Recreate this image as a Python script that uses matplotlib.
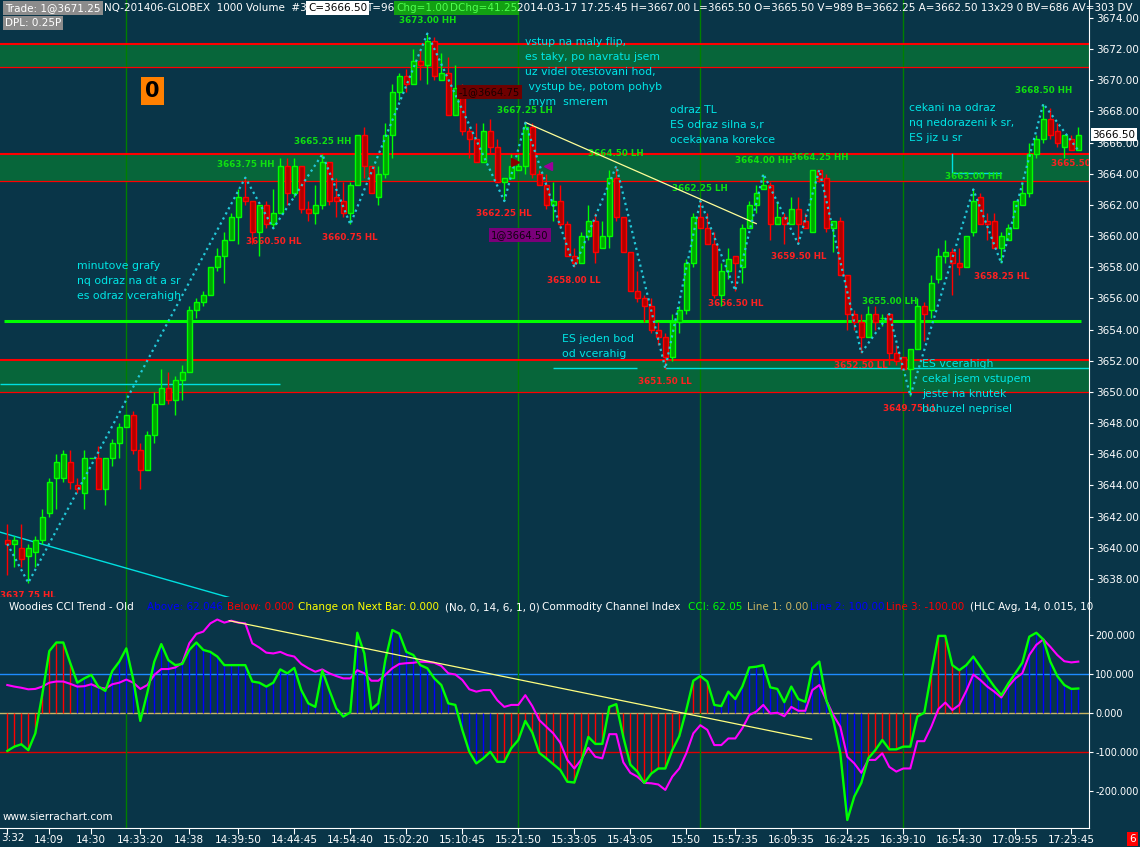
import matplotlib
matplotlib.use('Agg')
import matplotlib.pyplot as plt
import matplotlib.transforms as mtransforms
import numpy as np

plt.rcParams['font.family'] = ['DejaVu Sans']

# 1000 volume bars, NQ-201406
opens = [3640.50, 3640.25, 3640.00, 3639.50, 3639.75, 3640.50, 3642.25, 3644.50, 3644.50, 3645.50,
         3644.00, 3643.50, 3645.75, 3645.75, 3643.75, 3645.75, 3646.75, 3647.75, 3648.50, 3646.25,
         3645.00, 3647.25, 3649.25, 3650.25, 3649.50, 3650.75, 3651.25, 3655.25, 3655.75, 3656.25,
         3658.00, 3658.75, 3659.75, 3661.25, 3662.50, 3662.25, 3660.25, 3662.00, 3660.75, 3661.50,
         3664.50, 3662.75, 3664.50, 3661.75, 3661.50, 3662.00, 3664.75, 3662.50, 3662.25, 3661.50,
         3663.25, 3666.50, 3664.50, 3662.50, 3664.00, 3666.50, 3669.25, 3670.25, 3669.75, 3671.25,
         3671.00, 3672.50, 3670.00, 3670.50, 3667.75, 3669.50, 3666.75, 3666.25, 3664.75, 3666.75,
         3665.75, 3663.50, 3663.75, 3664.25, 3664.50, 3667.00, 3664.00, 3663.25, 3662.00, 3662.25,
         3660.75, 3658.75, 3658.25, 3660.00, 3661.00, 3659.25, 3660.00, 3663.75, 3661.25, 3659.00,
         3656.50, 3656.00, 3655.50, 3654.00, 3653.50, 3652.25, 3654.50, 3655.25, 3658.25, 3661.25,
         3660.50, 3659.50, 3656.25, 3657.75, 3658.75, 3658.00, 3660.50, 3662.00, 3663.00, 3663.25,
         3660.75, 3661.25, 3660.75, 3661.75, 3661.00, 3660.25, 3664.25, 3663.75, 3660.50, 3661.00,
         3657.50, 3655.00, 3654.50, 3653.50, 3655.00, 3654.75, 3655.00, 3652.50, 3652.25, 3651.50,
         3652.75, 3655.50, 3655.25, 3657.25, 3658.75, 3659.00, 3658.25, 3658.00, 3660.25, 3662.50,
         3661.00, 3661.00, 3659.25, 3659.75, 3660.50, 3662.00, 3662.75, 3665.25, 3666.25, 3667.50,
         3666.75, 3665.75, 3666.25, 3665.50]
highs = [3641.50, 3640.75, 3641.50, 3640.25, 3640.75, 3642.50, 3644.50, 3646.00, 3646.25, 3646.25,
         3644.50, 3646.25, 3645.75, 3646.50, 3645.75, 3647.00, 3648.00, 3648.50, 3648.75, 3646.75,
         3647.50, 3650.00, 3651.50, 3651.25, 3651.00, 3651.75, 3655.50, 3656.00, 3656.50, 3658.00,
         3659.25, 3660.25, 3661.50, 3663.00, 3663.75, 3662.25, 3662.00, 3662.25, 3663.00, 3665.00,
         3665.00, 3665.00, 3664.50, 3662.25, 3663.25, 3665.25, 3664.75, 3663.75, 3663.50, 3663.50,
         3666.50, 3667.00, 3664.50, 3664.50, 3667.25, 3669.75, 3670.50, 3670.75, 3672.00, 3672.00,
         3673.00, 3672.75, 3671.75, 3671.50, 3671.00, 3669.75, 3667.00, 3667.25, 3667.25, 3667.50,
         3666.25, 3663.75, 3665.25, 3665.25, 3667.25, 3667.25, 3664.25, 3664.00, 3663.50, 3663.25,
         3661.00, 3659.25, 3660.25, 3662.00, 3661.50, 3661.00, 3664.25, 3664.50, 3661.25, 3659.00,
         3657.75, 3656.25, 3656.00, 3654.50, 3653.75, 3655.00, 3655.50, 3658.50, 3661.50, 3662.25,
         3661.50, 3660.25, 3658.25, 3659.25, 3658.75, 3660.75, 3662.25, 3663.25, 3664.00, 3663.50,
         3662.25, 3661.50, 3662.50, 3662.50, 3661.50, 3664.25, 3664.25, 3664.00, 3661.00, 3661.25,
         3657.50, 3655.25, 3655.00, 3655.50, 3655.50, 3655.00, 3655.00, 3653.00, 3652.25, 3652.75,
         3656.00, 3655.75, 3657.50, 3659.25, 3659.75, 3659.25, 3659.25, 3660.00, 3663.00, 3662.75,
         3661.50, 3661.50, 3660.25, 3660.75, 3662.25, 3663.50, 3666.00, 3666.50, 3668.50, 3668.25,
         3667.25, 3666.50, 3666.50, 3667.00]
lows = [3638.25, 3638.75, 3638.75, 3637.75, 3638.75, 3640.25, 3642.00, 3642.50, 3644.25, 3643.75,
        3643.50, 3642.50, 3645.75, 3643.75, 3642.75, 3645.25, 3645.75, 3647.75, 3646.00, 3643.75,
        3645.00, 3646.75, 3649.25, 3649.25, 3648.50, 3649.50, 3651.25, 3654.75, 3655.50, 3656.25,
        3657.75, 3657.00, 3659.75, 3659.50, 3662.00, 3659.50, 3658.75, 3660.50, 3660.50, 3661.50,
        3662.00, 3662.50, 3661.50, 3661.00, 3660.75, 3661.75, 3662.00, 3661.25, 3661.25, 3660.75,
        3663.25, 3663.75, 3662.75, 3662.00, 3663.75, 3665.00, 3668.75, 3669.25, 3669.75, 3670.00,
        3669.75, 3670.00, 3670.00, 3667.75, 3667.75, 3666.50, 3665.00, 3664.75, 3664.75, 3665.25,
        3663.50, 3662.25, 3663.75, 3664.25, 3664.00, 3663.75, 3663.25, 3661.75, 3661.00, 3660.50,
        3658.75, 3658.00, 3658.25, 3659.75, 3658.25, 3659.25, 3659.25, 3661.00, 3659.00, 3656.50,
        3655.75, 3654.50, 3653.75, 3653.00, 3651.50, 3652.00, 3653.75, 3655.00, 3658.00, 3660.50,
        3659.50, 3656.00, 3655.50, 3657.25, 3656.50, 3657.00, 3660.50, 3661.50, 3663.00, 3659.75,
        3660.75, 3659.50, 3660.75, 3659.50, 3660.50, 3660.25, 3663.50, 3660.25, 3659.00, 3657.50,
        3654.00, 3654.00, 3652.50, 3653.50, 3654.00, 3654.25, 3651.75, 3651.75, 3651.50, 3649.75,
        3652.75, 3653.25, 3654.75, 3657.00, 3658.25, 3656.25, 3657.50, 3658.00, 3660.00, 3660.75,
        3659.75, 3659.25, 3658.25, 3659.75, 3660.50, 3662.00, 3662.50, 3665.00, 3666.00, 3666.25,
        3665.75, 3665.00, 3665.50, 3665.50]
closes = [3640.25, 3640.50, 3639.25, 3640.00, 3640.50, 3642.00, 3644.25, 3645.50, 3646.00, 3644.25,
          3643.75, 3645.75, 3645.75, 3643.75, 3645.75, 3646.75, 3647.75, 3648.50, 3646.25, 3645.00,
          3647.25, 3649.25, 3650.25, 3649.50, 3650.75, 3651.25, 3655.25, 3655.75, 3656.25, 3658.00,
          3658.75, 3659.75, 3661.25, 3662.50, 3662.25, 3660.25, 3662.00, 3660.75, 3661.50, 3664.50,
          3662.75, 3664.50, 3661.75, 3661.50, 3662.00, 3664.75, 3662.25, 3662.25, 3661.50, 3663.25,
          3666.50, 3664.50, 3662.75, 3664.00, 3666.50, 3669.25, 3670.25, 3669.75, 3671.25, 3671.00,
          3672.50, 3670.25, 3670.50, 3667.75, 3669.50, 3666.75, 3666.25, 3664.75, 3666.75, 3665.75,
          3663.50, 3663.75, 3664.50, 3664.50, 3667.00, 3664.00, 3663.25, 3662.00, 3662.25, 3660.75,
          3658.75, 3658.25, 3660.00, 3661.00, 3659.00, 3660.00, 3663.75, 3661.25, 3659.00, 3656.50,
          3656.00, 3655.50, 3654.00, 3653.50, 3652.25, 3654.50, 3655.25, 3658.25, 3661.25, 3660.50,
          3659.50, 3656.25, 3657.75, 3658.50, 3658.25, 3660.50, 3662.00, 3662.75, 3663.25, 3660.75,
          3661.25, 3660.75, 3661.75, 3660.75, 3660.50, 3664.25, 3663.75, 3660.50, 3661.00, 3657.50,
          3655.00, 3654.50, 3653.50, 3655.00, 3654.50, 3654.75, 3652.50, 3652.00, 3651.50, 3652.75,
          3655.50, 3655.00, 3657.00, 3658.75, 3659.00, 3658.25, 3658.00, 3660.00, 3662.25, 3660.75,
          3660.75, 3659.25, 3660.00, 3660.50, 3662.25, 3662.75, 3665.25, 3666.25, 3667.50, 3666.50,
          3666.00, 3666.50, 3665.50, 3666.50]

# Woodies CCI (green) and the smoothed line (magenta)
cci = [-98, -87, -81, -96, -53, 47, 158, 180, 180, 127,
       77, 88, 97, 67, 56, 107, 131, 165, 84, -21,
       51, 131, 176, 135, 122, 125, 161, 180, 161, 156,
       144, 122, 122, 122, 122, 80, 77, 67, 77, 111,
       101, 115, 58, 24, 15, 108, 58, 11, -10, 1,
       205, 152, 9, 24, 135, 212, 203, 156, 148, 122,
       114, 88, 71, 24, 20, -44, -100, -130, -117, -100,
       -126, -126, -91, -70, -21, -51, -103, -117, -132, -147,
       -177, -179, -126, -62, -80, -80, 15, 22, -62, -133,
       -151, -180, -156, -143, -143, -96, -60, 7, 82, 94,
       80, 20, 17, 54, 35, 67, 116, 118, 122, 65,
       61, 27, 67, 35, 28, 114, 131, 32, -19, -104,
       -275, -215, -180, -117, -96, -70, -94, -94, -87, -87,
       -10, 0, 101, 197, 197, 122, 109, 122, 144, 118,
       92, 67, 45, 75, 101, 128, 195, 205, 188, 131,
       94, 71, 61, 62.05]
cci_slow = [71, 67, 64, 60, 61, 67, 77, 80, 80, 74,
            67, 68, 73, 65, 62, 73, 77, 85, 77, 61,
            71, 97, 112, 112, 116, 128, 178, 202, 208, 229,
            239, 231, 236, 231, 229, 178, 167, 154, 152, 156,
            148, 144, 125, 114, 105, 111, 101, 94, 88, 88,
            109, 101, 82, 82, 97, 114, 125, 127, 128, 131,
            130, 128, 120, 101, 98, 84, 60, 54, 58, 58,
            32, 15, 20, 20, 45, 17, -19, -36, -53, -77,
            -121, -143, -120, -90, -113, -117, -55, -55, -127, -154,
            -164, -180, -181, -184, -198, -164, -143, -104, -53, -32,
            -44, -83, -83, -66, -66, -40, -6, 3, 20, -2,
            0, -9, 15, 5, 5, 58, 71, 32, -6, -36,
            -113, -130, -154, -121, -121, -104, -139, -151, -143, -143,
            -73, -73, -36, 9, 26, 7, 20, 56, 98, 84,
            67, 54, 39, 67, 88, 101, 148, 174, 188, 169,
            148, 132, 129, 131]
hist_trend = "R" * 10 + "B" * 60 + "R" * 31 + "B" * 22 + "R" * 14 + "B" * 17

# swing points (zigzag)
zz_bars = [0, 3, 34, 38, 45, 49, 60, 71, 74, 81, 87, 94, 99, 104, 108, 113, 116, 122, 126, 129, 138, 142, 148, 153]
zz_prices = [3640.25, 3637.75, 3663.75, 3660.50, 3665.25, 3660.75, 3673.00, 3662.25, 3667.25, 3658.00,
             3664.50, 3651.50, 3662.25, 3656.50, 3664.00, 3659.50, 3664.25, 3652.50, 3655.00, 3649.75,
             3663.00, 3658.25, 3668.50, 3665.50]
zz_tags = ['', 'HL', 'HH', 'HL', 'HH', 'HL', 'HH', 'HL', 'LH', 'LL', 'LH', 'LL', 'LH', 'HL',
           'HH', 'HL', 'HH', 'LL', 'LH', 'LL', 'HH', 'HL', 'HH', 'HL']

zones = [(3670.85, 3672.30), (3663.55, 3665.30), (3650.00, 3652.05)]
support_level = 3654.55
marker_bars = [17, 73, 99, 128]

time_bars = [0, 6, 12, 19, 26, 33, 41, 49, 57, 65, 73, 81, 89, 97, 104, 112, 120, 128, 136, 144, 152]
time_labels = ['3:32', '14:09', '14:30', '14:33:20', '14:38', '14:39:50', '14:44:45', '14:54:40',
               '15:02:20', '15:10:45', '15:21:50', '15:33:05', '15:43:05', '15:50', '15:57:35',
               '16:09:35', '16:24:25', '16:39:10', '16:54:30', '17:09:55', '17:23:45']

# colours
bg = '#093548'
zone_col = '#07663a'
up_edge, up_face = '#00ff00', '#00a600'
dn_edge, dn_face = '#ff0000', '#b00000'
cyan_txt = '#00e6e6'

W, H = 1140, 847
fig = plt.figure(figsize=(W / 100, H / 100), dpi=100, facecolor=bg)

def fpos(x, y):
    return x / W, 1 - y / H

def ftext(x, y, s, color='white', size=7.5, box=None, **kw):
    bb = None
    if box is not None:
        bb = dict(boxstyle='square,pad=0.2', fc=box, ec='none')
    fig.text(*fpos(x, y), s, color=color, fontsize=size, va='center', ha='left', bbox=bb, **kw)

n = len(opens)
x = np.arange(n)
o, h, l, c = map(np.array, (opens, highs, lows, closes))
up = c >= o
xmin, xmax = -7.3 / 7, (1089 - 7.3) / 7

# ---------------- price panel ----------------
ax = fig.add_axes([0, 250 / H, 1089 / W, 597 / H])
ax.set_facecolor(bg)
ax.set_xlim(xmin, xmax)
ax.set_ylim(3674 - 579 / 15.58, 3674 + 18 / 15.58)

for lo, hi in zones:
    ax.axhspan(lo, hi, color=zone_col, lw=0, zorder=1)
    ax.axhline(hi, color='#ff0000', lw=1.5, zorder=2)
    ax.axhline(lo, color='#ff0000', lw=0.9, zorder=2)
ax.hlines(support_level, -0.5, 153.4, color='#00ff00', lw=2.2, zorder=2)
for b in marker_bars:
    ax.axvline(b, color='#008000', lw=1, zorder=1.5)

# drawn lines
ax.plot([xmin, 33.3], [3641.0, 3636.6], color='#00e0e0', lw=1, zorder=2)
ax.hlines(3650.5, xmin, 38.9, color='#00e0e0', lw=1, zorder=2)
ax.hlines(3651.55, 78.0, 90.0, color='#00e0e0', lw=1, zorder=2)
ax.hlines(3651.55, 94.0, xmax, color='#00e0e0', lw=1, zorder=2)
ax.plot([135, 135, 142], [3665.27, 3664.03, 3664.03], color='#00e0e0', lw=1, zorder=2)
ax.plot([74, 107], [3667.3, 3660.8], color='#ffff99', lw=0.9, zorder=4)

# swing labels
for b, p, t in zip(zz_bars, zz_prices, zz_tags):
    if not t:
        continue
    high_pt = t in ('HH', 'LH')
    ax.annotate(f'{p:.2f} {t}', (b, p), xytext=(0, 6 if high_pt else -6), textcoords='offset points',
                ha='center', va='bottom' if high_pt else 'top', fontsize=6.3, fontweight='bold',
                color='#10e010' if high_pt else '#ff2020', zorder=2.5, annotation_clip=False,
                clip_on=True)

# candles
ax.vlines(x, l, h, colors=np.where(up, up_edge, dn_edge), lw=1, zorder=3)
ax.bar(x, np.abs(c - o), bottom=np.minimum(o, c), width=0.66,
       color=np.where(up, up_face, dn_face), edgecolor=np.where(up, up_edge, dn_edge),
       linewidth=1, zorder=3.2)

ax.plot(zz_bars, zz_prices, color='#22c8d8', lw=1.6, ls=(0, (1, 1.6)), zorder=4)

# trade markers
ax.plot([72.6], [3664.75], marker='>', color='#8b0000', ms=6, zorder=4)
ax.plot([77.3], [3664.5], marker='<', color='#9a009a', ms=6, zorder=4)

for s in ['top', 'left', 'bottom']:
    ax.spines[s].set_visible(False)
ax.spines['right'].set_color('white')
ax.yaxis.tick_right()
ax.set_yticks(np.arange(3638, 3675, 2))
ax.yaxis.set_major_formatter(matplotlib.ticker.FormatStrFormatter('%.2f'))
ax.tick_params(axis='y', colors='white', labelsize=7.5, length=3, pad=2)
ax.set_xticks([])
ax.text(1.003, 3666.5, '3666.50', transform=mtransforms.blended_transform_factory(ax.transAxes, ax.transData),
        ha='left', va='center', fontsize=7.5, color='black',
        bbox=dict(boxstyle='square,pad=0.15', fc='white', ec='none'), clip_on=False)

# ---------------- CCI panel ----------------
ax2 = fig.add_axes([0, 19 / H, 1089 / W, 231 / H])
ax2.set_facecolor(bg)
ax2.set_xlim(xmin, xmax)
ax2.set_ylim(-295.6, 296.7)
ax2.axhline(100, color='#1e8cff', lw=1, zorder=1)
ax2.axhline(0, color='#c8b464', lw=1, zorder=1)
ax2.axhline(-100, color='#e00000', lw=1, zorder=1)
for b in marker_bars:
    ax2.axvline(b, color='#008000', lw=1, zorder=1)
hist_cols = ['#ff0000' if t == 'R' else '#0000ff' for t in hist_trend]
ax2.vlines(x, 0, cci, colors=hist_cols, lw=1, zorder=2)
ax2.plot(x, cci_slow, color='#ff00ff', lw=1.5, zorder=3)
ax2.plot(x, cci, color='#00ff00', lw=1.7, zorder=4)
ax2.plot([31.7, 114.9], [236, -68], color='#ffff80', lw=0.9, zorder=5)

for s in ['top', 'left']:
    ax2.spines[s].set_visible(False)
ax2.spines['right'].set_color('white')
ax2.spines['bottom'].set_color('white')
ax2.yaxis.tick_right()
ax2.set_yticks([-200, -100, 0, 100, 200])
ax2.yaxis.set_major_formatter(matplotlib.ticker.FormatStrFormatter('%.3f'))
ax2.tick_params(axis='y', colors='white', labelsize=7.0, length=3, pad=1.5)
ax2.set_xticks(time_bars)
# first label is cut by the left edge in the original, so it is written separately
ax2.set_xticklabels([''] + time_labels[1:])
ax2.tick_params(axis='x', colors='white', labelsize=7.5, length=4, pad=1)

# ---------------- texts ----------------
ftext(5, 8, 'Trade: 1@3671.25', box='#8c8c8c')
ftext(5, 23, 'DPL: 0.25P', box='#8c8c8c')
ftext(104, 8, 'NQ-201406-GLOBEX  1000 Volume  #3')
ftext(308, 8, 'C=3666.50', color='black', box='white')
ftext(366, 8, 'T=96')
ftext(396, 8, 'Chg=1.00', color='#50ff50', box='#12a012')
ftext(450, 8, 'DChg=41.25', color='#50ff50', box='#12a012')
ftext(517, 8, '2014-03-17 17:25:45 H=3667.00 L=3665.50 O=3665.50 V=989 B=3662.25 A=3662.50 13x29 0 BV=686 AV=303 DV')

ftext(145, 91, '0', color='black', size=15, box='#ff8000', fontweight='bold')
ftext(459, 92, '-1@3664.75', color='#1a0000', size=7.2, box='#6e0000')
ftext(491, 235, '1@3664.50', color='#100010', size=7.2, box='#7a007a')

notes = [
    (525, 37, 'vstup na maly flip,\nes taky, po navratu jsem\nuz videl otestovani hod,\n vystup be, potom pohyb\n mym  smerem'),
    (670, 105, 'odraz TL\nES odraz silna s,r\nocekavana korekce'),
    (909, 103, 'cekani na odraz\nnq nedorazeni k sr,\nES jiz u sr'),
    (77, 261, 'minutove grafy\nnq odraz na dt a sr\nes odraz vcerahigh'),
    (562, 334, 'ES jeden bod\nod vcerahig'),
    (922, 359, 'ES vcerahigh\ncekal jsem vstupem\njeste na knutek\nbohuzel neprisel'),
]
for nx, ny, s in notes:
    fig.text(*fpos(nx, ny), s, color=cyan_txt, fontsize=7.8, va='top', ha='left', linespacing=1.62)

hdr = [(9, 'Woodies CCI Trend - Old', 'white'), (147, 'Above: 62.046', '#0000ff'),
       (227, 'Below: 0.000', '#ff0000'), (298, 'Change on Next Bar: 0.000', '#ffff00'),
       (445, '(No, 0, 14, 6, 1, 0)', 'white'), (542, 'Commodity Channel Index', 'white'),
       (688, 'CCI: 62.05', '#00ff00'), (747, 'Line 1: 0.00', '#c8b464'),
       (810, 'Line 2: 100.00', '#0000ff'), (886, 'Line 3: -100.00', '#ff0000'),
       (970, '(HLC Avg, 14, 0.015, 10', 'white')]
for hx, s, col in hdr:
    ftext(hx, 607, s, color=col)

ftext(1, 838, '3:32', size=7.5)
ftext(3, 817, 'www.sierrachart.com', size=7.5)
ftext(1129, 839, '6', color='white', box='#ff0000')

fig.savefig('out.png', dpi=100, facecolor=bg)
